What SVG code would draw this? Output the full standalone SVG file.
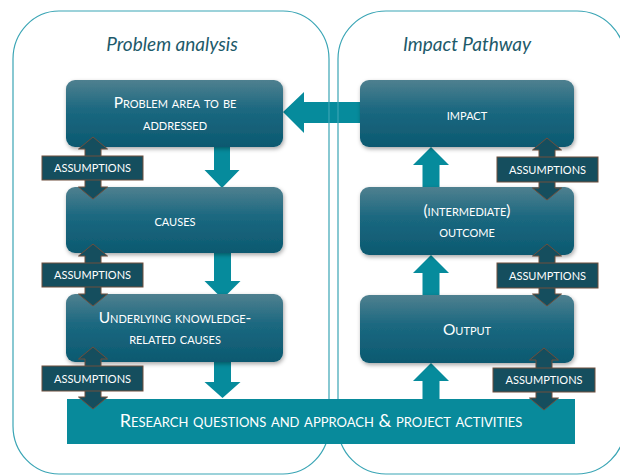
<svg xmlns="http://www.w3.org/2000/svg" width="620" height="475" viewBox="0 0 620 475">
<defs>
<linearGradient id="boxg" x1="0" y1="0" x2="0" y2="1">
<stop offset="0" stop-color="#4f808f"/>
<stop offset="0.45" stop-color="#1b6880"/>
<stop offset="1" stop-color="#0c5970"/>
</linearGradient>
<filter id="sh" x="-10%" y="-10%" width="120%" height="130%">
<feDropShadow dx="1" dy="2" stdDeviation="2" flood-color="#000" flood-opacity="0.35"/>
</filter>
<path id="dbl" d="M0,0 L14.5,12 L8,12 L8,50 L14.5,50 L0,62 L-14.5,50 L-8,50 L-8,12 L-14.5,12 Z"/>
</defs>
<style>
.panel{fill:none;stroke:#3aa5b5;stroke-width:1.2}
.ptitle{font-family:Lato,"Liberation Sans",sans-serif;font-style:italic;font-size:19px;fill:#1d5a6a;text-anchor:middle}
.box{fill:url(#boxg);filter:url(#sh)}
.bt{font-family:Lato,"Liberation Sans",sans-serif;font-size:15.5px;font-variant:small-caps;fill:#ffffff;text-anchor:middle}
.flow{fill:#068b9c}
.asm{fill:#154e5e;stroke:#6e4e3c;stroke-width:1}
.at{font-family:Lato,"Liberation Sans",sans-serif;font-size:15px;font-variant:small-caps;fill:#ffffff;text-anchor:middle}
.bar{fill:#088a9b}
.bart{font-family:Lato,"Liberation Sans",sans-serif;font-size:18px;font-variant:small-caps;fill:#ffffff;text-anchor:middle}
</style>
<rect width="620" height="475" fill="#ffffff"/>

<g id="connectors">
<path class="flow" d="M283,112 L304,92 L304,102 L360,102 L360,123 L304,123 L304,133 Z"/>
</g>

<g id="panel-left">
<rect class="panel" x="13" y="11" width="316" height="463" rx="46" ry="48"/>
<text class="ptitle" x="172" y="51">Problem analysis</text>
</g>
<g id="panel-right">
<rect class="panel" x="338" y="11" width="287" height="463" rx="48" ry="48"/>
<text class="ptitle" x="467" y="51">Impact Pathway</text>
</g>

<g id="connectors-flow">
<path class="flow" d="M214,147 H230 V170 H239.5 L222,188 L204.5,170 H214 Z"/>
<path class="flow" d="M214,253 H231 V281 H240.5 L222.5,299 L204.5,281 H214 Z"/>
<path class="flow" d="M214,362 H231 V382 H240.5 L222.5,398 L204.5,382 H214 Z"/>
<path class="flow" d="M431,147 L449,165 L439.5,165 L439.5,187 L422.5,187 L422.5,165 L413,165 Z"/>
<path class="flow" d="M431,255 L449,273 L439.5,273 L439.5,295 L422.5,295 L422.5,273 L413,273 Z"/>
<path class="flow" d="M431,363 L449,381 L439.5,381 L439.5,399 L422.5,399 L422.5,381 L413,381 Z"/>
</g>

<g id="problem-area">
<rect class="box" x="66" y="80" width="217" height="67" rx="9"/>
<text class="bt" x="175" y="108">Problem area to be</text>
<text class="bt" x="175" y="130">addressed</text>
</g>
<g id="causes">
<rect class="box" x="66" y="187" width="217" height="66" rx="9"/>
<text class="bt" x="175" y="226">causes</text>
</g>
<g id="underlying">
<rect class="box" x="66" y="294" width="217" height="68" rx="9"/>
<text class="bt" x="175" y="323">Underlying knowledge-</text>
<text class="bt" x="175" y="344">related causes</text>
</g>
<g id="impact">
<rect class="box" x="360" y="80" width="214" height="67" rx="9"/>
<text class="bt" x="467" y="120">impact</text>
</g>
<g id="outcome">
<rect class="box" x="360" y="187" width="214" height="68" rx="9"/>
<text class="bt" x="467" y="216">(intermediate)</text>
<text class="bt" x="467" y="237">outcome</text>
</g>
<g id="output">
<rect class="box" x="360" y="295" width="214" height="68" rx="9"/>
<text class="bt" x="467" y="335">Output</text>
</g>

<g id="research">
<rect class="bar" x="67" y="399" width="508" height="45"/>
<text class="bart" x="321" y="427">Research questions and approach &amp; project activities</text>
</g>

<g id="assumptions-l1">
<use href="#dbl" class="asm" x="93" y="137"/>
<rect class="asm" x="42" y="156" width="101" height="24"/>
<text class="at" x="92.5" y="172">assumptions</text>
</g>
<g id="assumptions-l2">
<use href="#dbl" class="asm" x="93" y="244"/>
<rect class="asm" x="42" y="263" width="101" height="24"/>
<text class="at" x="92.5" y="279">assumptions</text>
</g>
<g id="assumptions-l3">
<use href="#dbl" class="asm" x="93" y="347"/>
<rect class="asm" x="42" y="366" width="101" height="25"/>
<text class="at" x="92.5" y="383">assumptions</text>
</g>
<g id="assumptions-r1">
<use href="#dbl" class="asm" x="547" y="138"/>
<rect class="asm" x="497" y="157" width="101" height="25"/>
<text class="at" x="547.5" y="174">assumptions</text>
</g>
<g id="assumptions-r2">
<use href="#dbl" class="asm" x="547" y="244"/>
<rect class="asm" x="497" y="263" width="101" height="25"/>
<text class="at" x="547.5" y="280">assumptions</text>
</g>
<g id="assumptions-r3">
<use href="#dbl" class="asm" x="544" y="348"/>
<rect class="asm" x="493" y="368" width="102" height="24"/>
<text class="at" x="544" y="384">assumptions</text>
</g>
</svg>
